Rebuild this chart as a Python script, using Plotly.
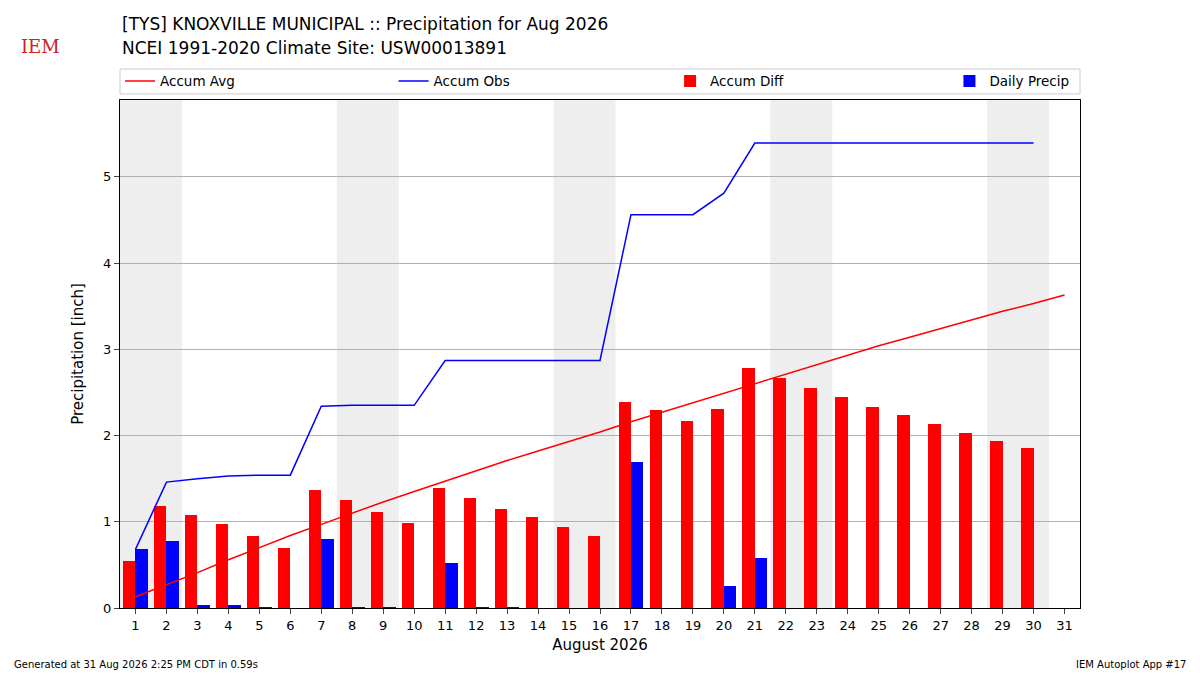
import plotly.graph_objects as go

days = list(range(1, 32))
accum_avg = [0.13,0.27,0.41,0.56,0.70,0.84,0.97,1.10,1.23,1.35,1.47,1.59,1.71,1.82,1.93,2.04,2.16,2.27,2.38,2.49,2.60,2.71,2.82,2.93,3.04,3.14,3.24,3.34,3.44,3.53,3.63]
obs_days = list(range(1, 31))
accum_obs = [0.68,1.46,1.50,1.53,1.54,1.54,2.34,2.35,2.35,2.35,2.87,2.87,2.87,2.87,2.87,2.87,4.56,4.56,4.56,4.81,5.39,5.39,5.39,5.39,5.39,5.39,5.39,5.39,5.39,5.39]
accum_diff = [0.54,1.18,1.08,0.97,0.84,0.70,1.37,1.25,1.11,0.99,1.39,1.28,1.15,1.05,0.94,0.83,2.39,2.29,2.17,2.31,2.78,2.67,2.55,2.45,2.33,2.24,2.13,2.03,1.94,1.85]
daily_precip = [0.68,0.78,0.04,0.03,0.01,0.0,0.80,0.01,0.01,0.0,0.52,0.01,0.01,0.0,0.0,0.0,1.69,0.0,0.0,0.25,0.58,0,0,0,0,0,0,0,0,0]
weekends = [(1, 2), (8, 9), (15, 16), (22, 23), (29, 30)]

fig = go.Figure()
fig.add_trace(go.Scatter(x=days, y=accum_avg, mode="lines", name="Accum Avg", line=dict(color="red", width=1.5), legend="legend2"))
fig.add_trace(go.Scatter(x=obs_days, y=accum_obs, mode="lines", name="Accum Obs", line=dict(color="blue", width=1.5), legend="legend3"))
fig.add_trace(go.Bar(x=[d - 0.2 for d in obs_days], y=accum_diff, width=0.4, name="Accum Diff", marker=dict(color="red", line=dict(width=0)), legend="legend4"))
fig.add_trace(go.Bar(x=[d + 0.2 for d in obs_days], y=daily_precip, width=0.4, name="Daily Precip", marker=dict(color="blue", line=dict(width=0)), legend="legend5"))

for a, b in weekends:
    fig.add_vrect(x0=a - 0.5, x1=b + 0.5, fillcolor="#eeeeee", line_width=0, layer="below")

fig.add_shape(type="rect", xref="paper", yref="paper", x0=0, x1=1, y0=1.012, y1=1.061,
              line=dict(color="#cccccc", width=1))

leg = dict(orientation="h", yanchor="middle", y=1.037, font=dict(size=13.5), bgcolor="rgba(0,0,0,0)", xanchor="left")
fig.update_layout(
    width=1192, height=667, paper_bgcolor="white", plot_bgcolor="white",
    margin=dict(l=112, r=120, t=92, b=67, autoexpand=False),
    font=dict(family="DejaVu Sans", size=13, color="black"),
    barmode="overlay", bargap=0,
    legend=dict(visible=False),
    legend2=dict(leg, x=0.0),
    legend3=dict(leg, x=0.285),
    legend4=dict(leg, x=0.573),
    legend5=dict(leg, x=0.864),
    xaxis=dict(range=[0.5, 31.5], tickmode="array", tickvals=days, ticktext=[str(d) for d in days],
               title=dict(text="August 2026", font=dict(size=15), standoff=7), showgrid=False, showline=True, linecolor="black",
               mirror=True, ticks="outside", zeroline=False),
    yaxis=dict(range=[0, 5.89], tickvals=[0, 1, 2, 3, 4, 5], title=dict(text="Precipitation [inch]", font=dict(size=15)),
               showgrid=True, gridcolor="#b0b0b0", showline=True, linecolor="black", mirror=True, ticks="outside", zeroline=False),
)
fig.add_annotation(text="[TYS] KNOXVILLE MUNICIPAL :: Precipitation for Aug 2026", x=0, y=1.15, xref="paper", yref="paper",
                   showarrow=False, xanchor="left", yanchor="middle", font=dict(size=17))
fig.add_annotation(text="NCEI 1991-2020 Climate Site: USW00013891", x=0, y=1.102, xref="paper", yref="paper",
                   showarrow=False, xanchor="left", yanchor="middle", font=dict(size=17))
fig.add_annotation(text="IEM", x=-0.105, y=1.13, xref="paper", yref="paper", showarrow=False,
                   font=dict(family="DejaVu Serif", size=18, color="#cc2222"), xanchor="left")
fig.add_annotation(text="Generated at 31 Aug 2026 2:25 PM CDT in 0.59s", x=-0.112, y=-0.112, xref="paper", yref="paper",
                   showarrow=False, xanchor="left", yanchor="middle", font=dict(size=10))
fig.add_annotation(text="IEM Autoplot App #17", x=1.113, y=-0.112, xref="paper", yref="paper",
                   showarrow=False, xanchor="right", yanchor="middle", font=dict(size=10))
fig.write_html("out.html")
